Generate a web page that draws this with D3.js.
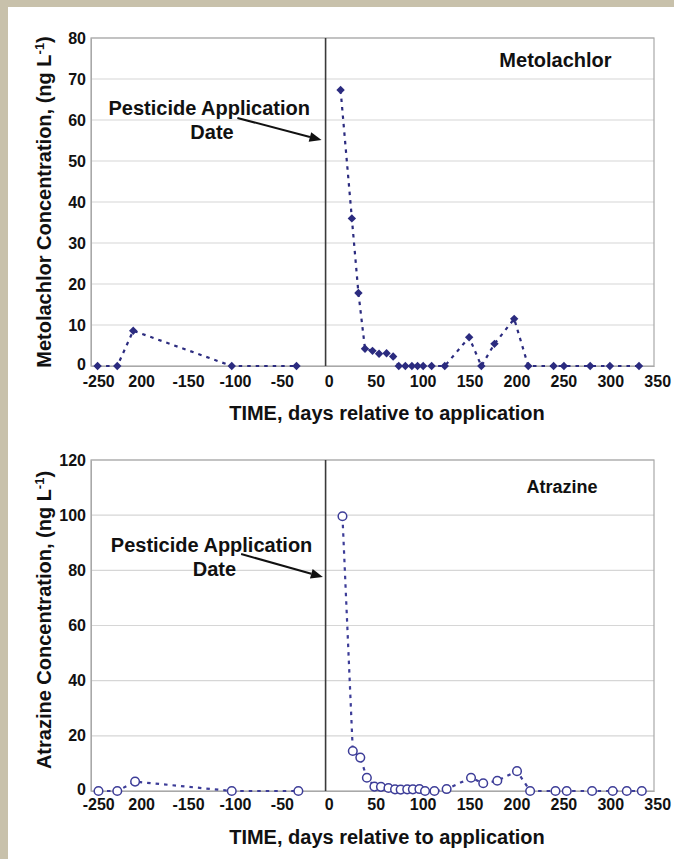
<!DOCTYPE html>
<html>
<head>
<meta charset="utf-8">
<script src="https://cdn.jsdelivr.net/npm/d3@7"></script>
<style>
  body { margin: 0; background: #fff; }
  text { font-family: "Liberation Sans", Arial, sans-serif; font-weight: bold; fill: #111; }
</style>
</head>
<body>
<svg id="chart" width="674" height="859"></svg>
<script>
// x axis (days relative to application) - note the original figure prints "200" without the minus
const xTicks = [-250, -200, -150, -100, -50, 0, 50, 100, 150, 200, 250, 300, 350];
const xTickLabels = ["-250", "200", "-150", "-100", "-50", "0", "50", "100", "150", "200", "250", "300", "350"];

// Metolachlor, ng/L
const metTicks = [0, 10, 20, 30, 40, 50, 60, 70, 80];
const metDays = [-243, -222, -205, -100, -31, 16, 28, 35, 42, 50, 57, 65, 72, 78, 85, 92, 98, 104, 113, 127, 153, 166, 180, 201, 216, 243, 254, 282, 303, 334];
const metValues = [0, 0, 8.6, 0, 0, 67.3, 36, 17.8, 4.2, 3.7, 3.0, 3.1, 2.3, 0, 0, 0, 0, 0, 0, 0, 7.0, 0, 5.4, 11.5, 0, 0, 0, 0, 0, 0];

// Atrazine, ng/L
const atrTicks = [0, 20, 40, 60, 80, 100, 120];
const atrDays = [-242, -222, -203, -100, -29, 18, 29, 37, 44, 52, 59, 67, 74, 80, 87, 93, 100, 106, 116, 129, 155, 168, 183, 204, 218, 245, 257, 284, 306, 321, 337];
const atrValues = [0, 0, 3.4, 0, 0, 99.6, 14.5, 12.1, 4.8, 1.6, 1.5, 1.1, 0.6, 0.5, 0.6, 0.6, 0.7, 0, 0, 0.7, 4.8, 2.8, 3.7, 7.2, 0, 0, 0, 0, 0, 0, 0];

const svg = d3.select("#chart");

// beige page frame like the source image
svg.append("rect").attr("x", 0).attr("y", 0).attr("width", 674).attr("height", 7).attr("fill", "#c8c1ab");
svg.append("rect").attr("x", 0).attr("y", 0).attr("width", 8).attr("height", 859).attr("fill", "#c8c1ab");

function drawPanel(p) {
  const x = d3.scaleLinear().domain([-250, 350]).range([91, 654]);
  const y = d3.scaleLinear().domain([0, p.yMax]).range([p.bottom, p.top]);
  const g = svg.append("g");

  // gridlines
  g.selectAll(".grid").data(p.yTicks.slice(1)).join("line")
    .attr("x1", x(-250)).attr("x2", x(350))
    .attr("y1", d => y(d)).attr("y2", d => y(d))
    .attr("stroke", "#d6d6d6").attr("stroke-width", 1.2);

  // plot frame
  g.append("rect")
    .attr("x", x(-250)).attr("y", y(p.yMax))
    .attr("width", x(350) - x(-250)).attr("height", y(0) - y(p.yMax))
    .attr("fill", "none").attr("stroke", "#a8a8a8").attr("stroke-width", 1.2);

  // application date line
  g.append("line")
    .attr("x1", x(0)).attr("x2", x(0)).attr("y1", y(p.yMax)).attr("y2", y(0))
    .attr("stroke", "#3a3a3a").attr("stroke-width", 1.6);

  // axes
  const yAxis = g.append("g").attr("transform", `translate(${x(-250)},0)`)
    .call(d3.axisLeft(y).tickValues(p.yTicks).tickSize(0).tickPadding(5));
  yAxis.select(".domain").attr("stroke", "#a8a8a8");
  yAxis.selectAll("text").style("font-size", "16px").attr("dy", (d) => d === 0 ? "0.2em" : "0.32em");

  const xAxis = g.append("g").attr("transform", `translate(0,${y(0)})`)
    .call(d3.axisBottom(x).tickValues(xTicks).tickSize(0).tickPadding(p.xPad)
      .tickFormat((d, i) => xTickLabels[i]));
  xAxis.select(".domain").attr("stroke", "#a8a8a8");
  xAxis.selectAll("text").style("font-size", "16px").attr("dx", (d) => d === -250 ? "0.45em" : "0.2em");

  // axis titles
  g.append("text")
    .attr("x", 387).attr("y", p.xTitleY)
    .attr("text-anchor", "middle").style("font-size", "20px")
    .text("TIME, days relative to application");

  const yt = g.append("text")
    .attr("transform", `translate(51,${p.yTitleY}) rotate(-90)`)
    .attr("text-anchor", "middle").style("font-size", "20px");
  yt.append("tspan").text(p.yTitle + " Concentration, (ng L");
  yt.append("tspan").attr("baseline-shift", "super").style("font-size", "13px").text("-1");
  yt.append("tspan").text(")");

  // series - the dashed line is broken at the application date
  const pts = p.days.map((d, i) => ({ d, v: p.values[i] }));
  const line = d3.line().x(d => x(d.d)).y(d => y(d.v));
  [pts.filter(d => d.d < 0), pts.filter(d => d.d > 0)].forEach(seg => {
    g.append("path").datum(seg)
      .attr("d", line).attr("fill", "none")
      .attr("stroke", p.color).attr("stroke-width", 2.2)
      .attr("stroke-dasharray", "3.5,5");
  });

  if (p.marker === "diamond") {
    g.selectAll(".pt").data(pts).join("path")
      .attr("transform", d => `translate(${x(d.d)},${y(d.v)})`)
      .attr("d", "M0,-4.2L4.2,0L0,4.2L-4.2,0Z")
      .attr("fill", p.color);
  } else {
    g.selectAll(".pt").data(pts).join("circle")
      .attr("cx", d => x(d.d)).attr("cy", d => y(d.v)).attr("r", 4.3)
      .attr("fill", "#fff").attr("stroke", p.color).attr("stroke-width", 1.5);
  }

  // compound label
  g.append("text")
    .attr("x", x(p.labelAt[0])).attr("y", y(p.labelAt[1]))
    .attr("text-anchor", "middle").attr("dy", "0.35em")
    .style("font-size", p.labelSize)
    .text(p.label);

  // annotation + arrow
  g.append("text")
    .attr("x", x(p.noteAt[0])).attr("y", y(p.noteAt[1]))
    .attr("text-anchor", "middle").attr("dy", "0.35em").style("font-size", "20px")
    .text("Pesticide Application");
  g.append("text")
    .attr("x", x(p.noteAt[0] + 3)).attr("y", y(p.noteAt[1]) + 24)
    .attr("text-anchor", "middle").attr("dy", "0.35em").style("font-size", "20px")
    .text("Date");

  const x1 = x(p.arrow[0]), y1 = y(p.arrow[1]), x2 = x(p.arrow[2]), y2 = y(p.arrow[3]);
  const ang = Math.atan2(y2 - y1, x2 - x1);
  const hl = 12, hw = 5;
  const bx = x2 - hl * Math.cos(ang), by = y2 - hl * Math.sin(ang);
  g.append("line")
    .attr("x1", x1).attr("y1", y1).attr("x2", bx).attr("y2", by)
    .attr("stroke", "#111").attr("stroke-width", 2);
  g.append("path")
    .attr("d", `M${x2},${y2}L${bx - hw * Math.sin(ang)},${by + hw * Math.cos(ang)}L${bx + hw * Math.sin(ang)},${by - hw * Math.cos(ang)}Z`)
    .attr("fill", "#111");
}

drawPanel({
  top: 38, bottom: 366, yMax: 80, yTicks: metTicks,
  days: metDays, values: metValues,
  marker: "diamond", color: "#2b2b7f",
  yTitle: "Metolachlor", yTitleY: 202, xTitleY: 420, xPad: 10,
  label: "Metolachlor", labelAt: [245, 74.6], labelSize: "20px",
  noteAt: [-124, 62.9], arrow: [-94, 60.5, -4.3, 55.1]
});

drawPanel({
  top: 460, bottom: 791, yMax: 120, yTicks: atrTicks,
  days: atrDays, values: atrValues,
  marker: "circle", color: "#3d3d98",
  yTitle: "Atrazine", yTitleY: 620, xTitleY: 844, xPad: 8,
  label: "Atrazine", labelAt: [252, 110.5], labelSize: "18px",
  noteAt: [-121.5, 89.1], arrow: [-90, 85.9, -2.9, 77.6]
});
</script>
</body>
</html>
